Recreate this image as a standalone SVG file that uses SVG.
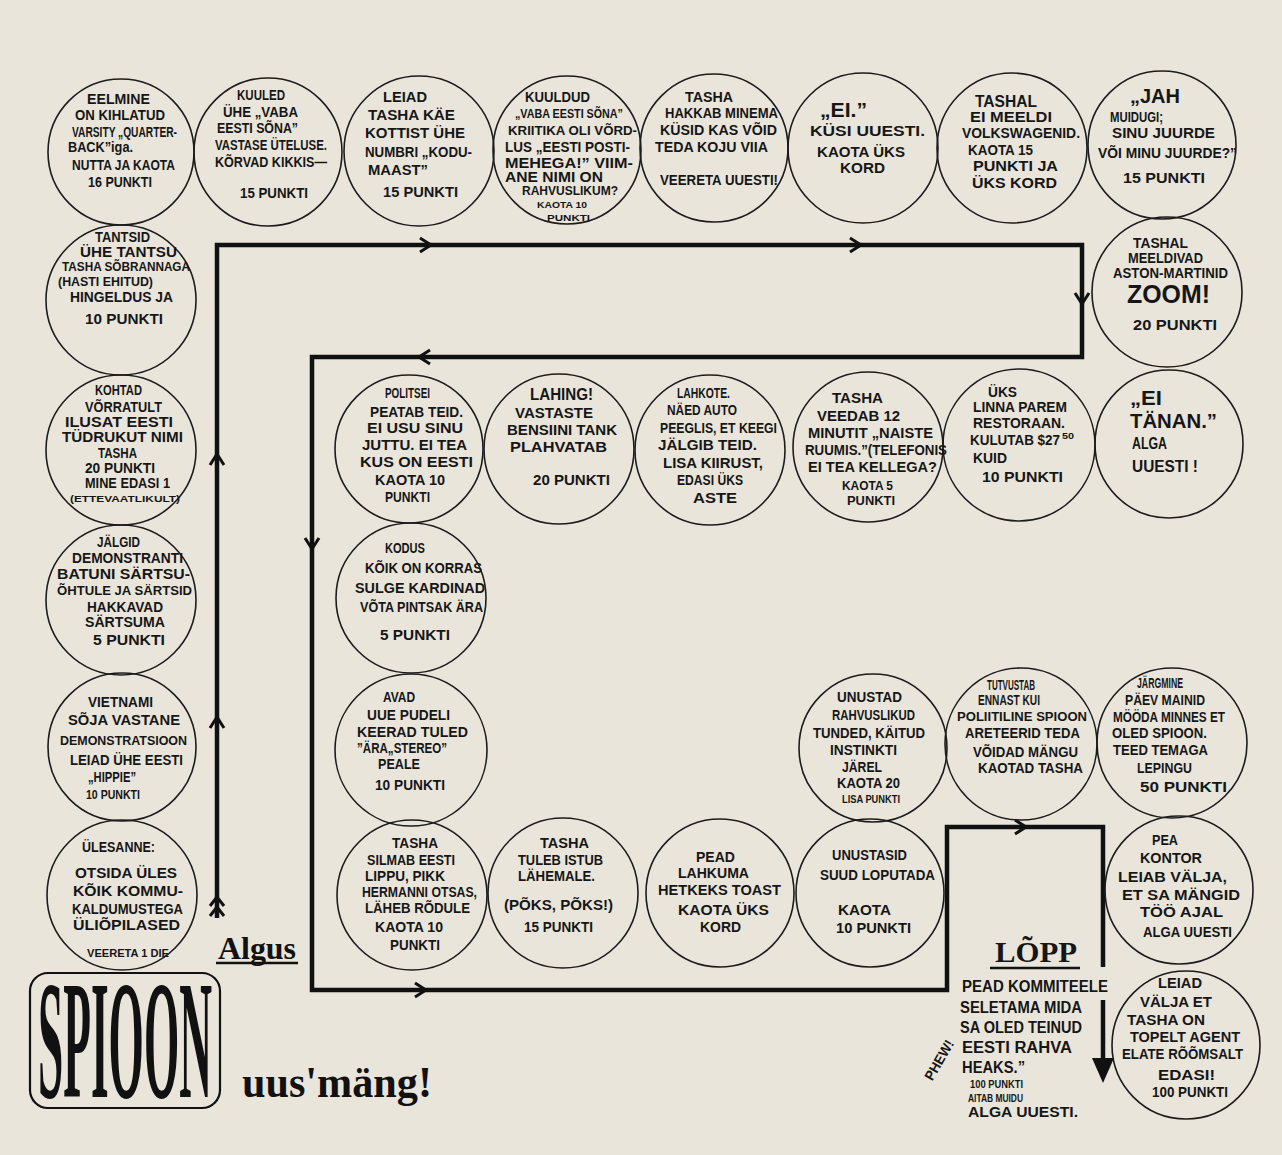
<svg xmlns="http://www.w3.org/2000/svg" xmlns:xlink="http://www.w3.org/1999/xlink" width="1282" height="1155" viewBox="0 0 1282 1155">
<defs>
<style>
.c{fill:none;stroke:#1c1c1c;stroke-width:1.6}
.t{font-family:"Liberation Sans",Arial,sans-serif;font-weight:bold;font-size:14px;fill:#161616}
.s{font-size:12.5px}
.ss{font-size:11px}
.xs{font-size:9.5px}
.m{font-size:16px}
.l{font-size:21px}
.ln{fill:none;stroke:#111;stroke-width:4.5;stroke-linejoin:miter}
.ah{fill:none;stroke:#111;stroke-width:3}
</style>
<path id="ar" d="M-10,-7 L1,0 L-10,7"/>
</defs>
<rect width="1282" height="1155" fill="#e9e5db"/>

<g id="connectors">
<path class="ln" d="M217,918 V245 H1082 V357 H312 V990 H947 V827 H1103 V967"/>
<path class="ln" d="M1103,1000 V1062"/>
<polygon points="1092,1058 1114,1058 1103,1083" fill="#111"/>
<g class="ah">
<use xlink:href="#ar" transform="translate(217,455) rotate(-90)"/>
<use xlink:href="#ar" transform="translate(217,718) rotate(-90)"/>
<use xlink:href="#ar" transform="translate(430,245)"/>
<use xlink:href="#ar" transform="translate(860,245)"/>
<use xlink:href="#ar" transform="translate(1082,303) rotate(90)"/>
<use xlink:href="#ar" transform="translate(420,357) rotate(180)"/>
<use xlink:href="#ar" transform="translate(312,548) rotate(90)"/>
<use xlink:href="#ar" transform="translate(425,990)"/>
<use xlink:href="#ar" transform="translate(1025,827)"/>
<path d="M210,906 L217,897 L224,906 M210,916 L217,907 L224,916"/>
</g>
</g>

<g id="n-eelmine"><circle class="c" cx="121" cy="152" r="73"/>
<text class="t" x="87" y="104" textLength="63" lengthAdjust="spacingAndGlyphs">EELMINE</text>
<text class="t" x="75" y="120" textLength="90" lengthAdjust="spacingAndGlyphs">ON KIHLATUD</text>
<text class="t" x="72" y="137" textLength="105" lengthAdjust="spacingAndGlyphs">VARSITY „QUARTER-</text>
<text class="t" x="68" y="152" textLength="65" lengthAdjust="spacingAndGlyphs">BACK”iga.</text>
<text class="t" x="72" y="170" textLength="103" lengthAdjust="spacingAndGlyphs">NUTTA JA KAOTA</text>
<text class="t" x="88" y="187" textLength="64" lengthAdjust="spacingAndGlyphs">16 PUNKTI</text>
</g>

<g id="n-kuuled"><circle class="c" cx="268" cy="152" r="74"/>
<text class="t" x="237" y="100" textLength="48" lengthAdjust="spacingAndGlyphs">KUULED</text>
<text class="t" x="223" y="117" textLength="75" lengthAdjust="spacingAndGlyphs">ÜHE „VABA</text>
<text class="t" x="217" y="133" textLength="81" lengthAdjust="spacingAndGlyphs">EESTI SÕNA”</text>
<text class="t" x="215" y="150" textLength="112" lengthAdjust="spacingAndGlyphs">VASTASE ÜTELUSE.</text>
<text class="t" x="215" y="167" textLength="112" lengthAdjust="spacingAndGlyphs">KÕRVAD KIKKIS—</text>
<text class="t" x="240" y="198" textLength="68" lengthAdjust="spacingAndGlyphs">15 PUNKTI</text>
</g>

<g id="n-leiad-kottist"><circle class="c" cx="419" cy="151" r="75"/>
<text class="t" x="383" y="102" textLength="44" lengthAdjust="spacingAndGlyphs">LEIAD</text>
<text class="t" x="368" y="120" textLength="87" lengthAdjust="spacingAndGlyphs">TASHA KÄE</text>
<text class="t" x="365" y="138" textLength="100" lengthAdjust="spacingAndGlyphs">KOTTIST ÜHE</text>
<text class="t" x="365" y="157" textLength="107" lengthAdjust="spacingAndGlyphs">NUMBRI „KODU-</text>
<text class="t" x="368" y="175" textLength="60" lengthAdjust="spacingAndGlyphs">MAAST”</text>
<text class="t" x="383" y="197" textLength="75" lengthAdjust="spacingAndGlyphs">15 PUNKTI</text>
</g>

<g id="n-kuuldud"><circle class="c" cx="567" cy="150" r="74"/>
<text class="t" x="525" y="102" textLength="65" lengthAdjust="spacingAndGlyphs">KUULDUD</text>
<text class="t s" x="515" y="118" textLength="108" lengthAdjust="spacingAndGlyphs">„VABA EESTI SÕNA”</text>
<text class="t s" x="508" y="135" textLength="129" lengthAdjust="spacingAndGlyphs">KRIITIKA OLI VÕRD-</text>
<text class="t" x="505" y="152" textLength="125" lengthAdjust="spacingAndGlyphs">LUS „EESTI POSTI-</text>
<text class="t" x="505" y="168" textLength="128" lengthAdjust="spacingAndGlyphs">MEHEGA!” VIIM-</text>
<text class="t" x="505" y="182" textLength="98" lengthAdjust="spacingAndGlyphs">ANE NIMI ON</text>
<text class="t s" x="522" y="195" textLength="96" lengthAdjust="spacingAndGlyphs">RAHVUSLIKUM?</text>
<text class="t xs" x="537" y="208" textLength="50" lengthAdjust="spacingAndGlyphs">KAOTA 10</text>
<text class="t xs" x="547" y="221" textLength="43" lengthAdjust="spacingAndGlyphs">PUNKTI</text>
</g>

<g id="n-tasha-hakkab"><circle class="c" cx="714" cy="148" r="74"/>
<text class="t" x="685" y="102" textLength="48" lengthAdjust="spacingAndGlyphs">TASHA</text>
<text class="t" x="665" y="118" textLength="113" lengthAdjust="spacingAndGlyphs">HAKKAB MINEMA</text>
<text class="t" x="660" y="135" textLength="117" lengthAdjust="spacingAndGlyphs">KÜSID KAS VÕID</text>
<text class="t" x="655" y="152" textLength="113" lengthAdjust="spacingAndGlyphs">TEDA KOJU VIIA</text>
<text class="t" x="660" y="185" textLength="118" lengthAdjust="spacingAndGlyphs">VEERETA UUESTI!</text>
</g>

<g id="n-ei"><circle class="c" cx="863" cy="148" r="75"/>
<text class="t l" x="820" y="117" textLength="47" lengthAdjust="spacingAndGlyphs">„EI.”</text>
<text class="t" x="810" y="136" textLength="115" lengthAdjust="spacingAndGlyphs">KÜSI UUESTI.</text>
<text class="t" x="817" y="157" textLength="88" lengthAdjust="spacingAndGlyphs">KAOTA ÜKS</text>
<text class="t" x="840" y="173" textLength="45" lengthAdjust="spacingAndGlyphs">KORD</text>
</g>

<g id="n-tashal-ei-meeldi"><circle class="c" cx="1012" cy="148" r="75"/>
<text class="t m" x="975" y="107" textLength="62" lengthAdjust="spacingAndGlyphs">TASHAL</text>
<text class="t" x="970" y="122" textLength="82" lengthAdjust="spacingAndGlyphs">EI MEELDI</text>
<text class="t" x="962" y="138" textLength="118" lengthAdjust="spacingAndGlyphs">VOLKSWAGENID.</text>
<text class="t" x="968" y="155" textLength="65" lengthAdjust="spacingAndGlyphs">KAOTA 15</text>
<text class="t" x="973" y="171" textLength="85" lengthAdjust="spacingAndGlyphs">PUNKTI JA</text>
<text class="t" x="972" y="188" textLength="85" lengthAdjust="spacingAndGlyphs">ÜKS KORD</text>
</g>

<g id="n-jah"><circle class="c" cx="1162" cy="145" r="74"/>
<text class="t l" x="1130" y="103" textLength="50" lengthAdjust="spacingAndGlyphs">„JAH</text>
<text class="t" x="1110" y="122" textLength="53" lengthAdjust="spacingAndGlyphs">MUIDUGI;</text>
<text class="t" x="1112" y="138" textLength="103" lengthAdjust="spacingAndGlyphs">SINU JUURDE</text>
<text class="t" x="1098" y="158" textLength="139" lengthAdjust="spacingAndGlyphs">VÕI MINU JUURDE?”</text>
<text class="t" x="1123" y="183" textLength="82" lengthAdjust="spacingAndGlyphs">15 PUNKTI</text>
</g>

<g id="n-aston-martin"><circle class="c" cx="1167" cy="292" r="75"/>
<text class="t" x="1133" y="248" textLength="55" lengthAdjust="spacingAndGlyphs">TASHAL</text>
<text class="t" x="1128" y="263" textLength="75" lengthAdjust="spacingAndGlyphs">MEELDIVAD</text>
<text class="t" x="1113" y="278" textLength="115" lengthAdjust="spacingAndGlyphs">ASTON-MARTINID</text>
<text class="t" style="font-size:25px" x="1127" y="303" textLength="83" lengthAdjust="spacingAndGlyphs">ZOOM!</text>
<text class="t" x="1133" y="330" textLength="84" lengthAdjust="spacingAndGlyphs">20 PUNKTI</text>
</g>

<g id="n-ei-tanan"><circle class="c" cx="1169" cy="444" r="74"/>
<text class="t l" x="1130" y="405" textLength="32" lengthAdjust="spacingAndGlyphs">„EI</text>
<text class="t l" x="1130" y="428" textLength="87" lengthAdjust="spacingAndGlyphs">TÄNAN.”</text>
<text class="t m" x="1132" y="449" textLength="35" lengthAdjust="spacingAndGlyphs">ALGA</text>
<text class="t m" x="1132" y="472" textLength="66" lengthAdjust="spacingAndGlyphs">UUESTI !</text>
</g>

<g id="n-uks-restoraan"><circle class="c" cx="1019" cy="445" r="76"/>
<text class="t" x="988" y="397" textLength="29" lengthAdjust="spacingAndGlyphs">ÜKS</text>
<text class="t" x="973" y="412" textLength="94" lengthAdjust="spacingAndGlyphs">LINNA PAREM</text>
<text class="t" x="973" y="428" textLength="92" lengthAdjust="spacingAndGlyphs">RESTORAAN.</text>
<text class="t" x="970" y="445" textLength="90" lengthAdjust="spacingAndGlyphs">KULUTAB $27</text>
<text class="t xs" x="1062" y="439" textLength="12" lengthAdjust="spacingAndGlyphs">50</text>
<text class="t" x="973" y="463" textLength="34" lengthAdjust="spacingAndGlyphs">KUID</text>
<text class="t" x="982" y="482" textLength="81" lengthAdjust="spacingAndGlyphs">10 PUNKTI</text>
</g>

<g id="n-tasha-veedab"><circle class="c" cx="868" cy="447" r="75"/>
<text class="t" x="832" y="403" textLength="51" lengthAdjust="spacingAndGlyphs">TASHA</text>
<text class="t" x="817" y="421" textLength="83" lengthAdjust="spacingAndGlyphs">VEEDAB 12</text>
<text class="t" x="808" y="438" textLength="125" lengthAdjust="spacingAndGlyphs">MINUTIT „NAISTE</text>
<text class="t" x="805" y="455" textLength="142" lengthAdjust="spacingAndGlyphs">RUUMIS.”(TELEFONIS</text>
<text class="t" x="808" y="472" textLength="129" lengthAdjust="spacingAndGlyphs">EI TEA KELLEGA?</text>
<text class="t s" x="842" y="490" textLength="51" lengthAdjust="spacingAndGlyphs">KAOTA 5</text>
<text class="t s" x="847" y="505" textLength="48" lengthAdjust="spacingAndGlyphs">PUNKTI</text>
</g>

<g id="n-lahkote"><circle class="c" cx="710" cy="450" r="75"/>
<text class="t" x="677" y="398" textLength="53" lengthAdjust="spacingAndGlyphs">LAHKOTE.</text>
<text class="t" x="667" y="415" textLength="70" lengthAdjust="spacingAndGlyphs">NÄED AUTO</text>
<text class="t" x="660" y="433" textLength="117" lengthAdjust="spacingAndGlyphs">PEEGLIS, ET KEEGI</text>
<text class="t" x="658" y="450" textLength="99" lengthAdjust="spacingAndGlyphs">JÄLGIB TEID.</text>
<text class="t" x="663" y="468" textLength="100" lengthAdjust="spacingAndGlyphs">LISA KIIRUST,</text>
<text class="t" x="677" y="485" textLength="66" lengthAdjust="spacingAndGlyphs">EDASI ÜKS</text>
<text class="t" x="693" y="503" textLength="44" lengthAdjust="spacingAndGlyphs">ASTE</text>
</g>

<g id="n-lahing"><circle class="c" cx="559" cy="449" r="75"/>
<text class="t m" x="530" y="400" textLength="63" lengthAdjust="spacingAndGlyphs">LAHING!</text>
<text class="t" x="515" y="418" textLength="78" lengthAdjust="spacingAndGlyphs">VASTASTE</text>
<text class="t" x="507" y="435" textLength="110" lengthAdjust="spacingAndGlyphs">BENSIINI TANK</text>
<text class="t" x="510" y="452" textLength="97" lengthAdjust="spacingAndGlyphs">PLAHVATAB</text>
<text class="t" x="533" y="485" textLength="77" lengthAdjust="spacingAndGlyphs">20 PUNKTI</text>
</g>

<g id="n-politsei"><circle class="c" cx="409" cy="449" r="74"/>
<text class="t" x="385" y="398" textLength="45" lengthAdjust="spacingAndGlyphs">POLITSEI</text>
<text class="t" x="370" y="417" textLength="93" lengthAdjust="spacingAndGlyphs">PEATAB TEID.</text>
<text class="t" x="367" y="433" textLength="96" lengthAdjust="spacingAndGlyphs">EI USU SINU</text>
<text class="t" x="362" y="450" textLength="105" lengthAdjust="spacingAndGlyphs">JUTTU. EI TEA</text>
<text class="t" x="360" y="467" textLength="113" lengthAdjust="spacingAndGlyphs">KUS ON EESTI</text>
<text class="t" x="375" y="485" textLength="70" lengthAdjust="spacingAndGlyphs">KAOTA 10</text>
<text class="t" x="385" y="502" textLength="45" lengthAdjust="spacingAndGlyphs">PUNKTI</text>
</g>

<g id="n-kodus"><circle class="c" cx="411" cy="598" r="75"/>
<text class="t" x="385" y="553" textLength="40" lengthAdjust="spacingAndGlyphs">KODUS</text>
<text class="t" x="365" y="573" textLength="117" lengthAdjust="spacingAndGlyphs">KÕIK ON KORRAS</text>
<text class="t" x="355" y="593" textLength="130" lengthAdjust="spacingAndGlyphs">SULGE KARDINAD</text>
<text class="t" x="360" y="612" textLength="123" lengthAdjust="spacingAndGlyphs">VÕTA PINTSAK ÄRA</text>
<text class="t" x="380" y="640" textLength="70" lengthAdjust="spacingAndGlyphs">5 PUNKTI</text>
</g>

<g id="n-avad"><circle class="c" cx="411" cy="750" r="76"/>
<text class="t" x="383" y="702" textLength="32" lengthAdjust="spacingAndGlyphs">AVAD</text>
<text class="t" x="367" y="720" textLength="83" lengthAdjust="spacingAndGlyphs">UUE PUDELI</text>
<text class="t" x="357" y="737" textLength="111" lengthAdjust="spacingAndGlyphs">KEERAD TULED</text>
<text class="t" x="357" y="753" textLength="90" lengthAdjust="spacingAndGlyphs">”ÄRA„STEREO”</text>
<text class="t" x="378" y="769" textLength="42" lengthAdjust="spacingAndGlyphs">PEALE</text>
<text class="t" x="375" y="790" textLength="70" lengthAdjust="spacingAndGlyphs">10 PUNKTI</text>
</g>

<g id="n-tasha-silmab"><circle class="c" cx="412" cy="895" r="75"/>
<text class="t" x="392" y="848" textLength="46" lengthAdjust="spacingAndGlyphs">TASHA</text>
<text class="t" x="367" y="865" textLength="88" lengthAdjust="spacingAndGlyphs">SILMAB EESTI</text>
<text class="t" x="365" y="881" textLength="80" lengthAdjust="spacingAndGlyphs">LIPPU, PIKK</text>
<text class="t" x="362" y="897" textLength="115" lengthAdjust="spacingAndGlyphs">HERMANNI OTSAS,</text>
<text class="t" x="365" y="913" textLength="105" lengthAdjust="spacingAndGlyphs">LÄHEB RÕDULE</text>
<text class="t" x="375" y="932" textLength="68" lengthAdjust="spacingAndGlyphs">KAOTA 10</text>
<text class="t" x="390" y="950" textLength="50" lengthAdjust="spacingAndGlyphs">PUNKTI</text>
</g>

<g id="n-tasha-tuleb"><circle class="c" cx="563" cy="893" r="75"/>
<text class="t" x="540" y="848" textLength="49" lengthAdjust="spacingAndGlyphs">TASHA</text>
<text class="t" x="518" y="865" textLength="85" lengthAdjust="spacingAndGlyphs">TULEB ISTUB</text>
<text class="t" x="518" y="881" textLength="77" lengthAdjust="spacingAndGlyphs">LÄHEMALE.</text>
<text class="t" x="504" y="910" textLength="109" lengthAdjust="spacingAndGlyphs">(PÕKS, PÕKS!)</text>
<text class="t" x="524" y="932" textLength="69" lengthAdjust="spacingAndGlyphs">15 PUNKTI</text>
</g>

<g id="n-pead-lahkuma"><circle class="c" cx="720" cy="893" r="74"/>
<text class="t" x="696" y="862" textLength="39" lengthAdjust="spacingAndGlyphs">PEAD</text>
<text class="t" x="678" y="878" textLength="71" lengthAdjust="spacingAndGlyphs">LAHKUMA</text>
<text class="t" x="658" y="895" textLength="123" lengthAdjust="spacingAndGlyphs">HETKEKS TOAST</text>
<text class="t" x="678" y="915" textLength="91" lengthAdjust="spacingAndGlyphs">KAOTA ÜKS</text>
<text class="t" x="700" y="932" textLength="41" lengthAdjust="spacingAndGlyphs">KORD</text>
</g>

<g id="n-unustasid"><circle class="c" cx="870" cy="893" r="74"/>
<text class="t" x="832" y="860" textLength="75" lengthAdjust="spacingAndGlyphs">UNUSTASID</text>
<text class="t" x="820" y="880" textLength="115" lengthAdjust="spacingAndGlyphs">SUUD LOPUTADA</text>
<text class="t" x="838" y="915" textLength="53" lengthAdjust="spacingAndGlyphs">KAOTA</text>
<text class="t" x="836" y="933" textLength="75" lengthAdjust="spacingAndGlyphs">10 PUNKTI</text>
</g>

<g id="n-unustad"><circle class="c" cx="873" cy="748" r="74"/>
<text class="t" x="837" y="702" textLength="65" lengthAdjust="spacingAndGlyphs">UNUSTAD</text>
<text class="t" x="832" y="720" textLength="83" lengthAdjust="spacingAndGlyphs">RAHVUSLIKUD</text>
<text class="t" x="813" y="738" textLength="112" lengthAdjust="spacingAndGlyphs">TUNDED, KÄITUD</text>
<text class="t" x="830" y="755" textLength="67" lengthAdjust="spacingAndGlyphs">INSTINKTI</text>
<text class="t" x="842" y="772" textLength="40" lengthAdjust="spacingAndGlyphs">JÄREL</text>
<text class="t" x="837" y="788" textLength="63" lengthAdjust="spacingAndGlyphs">KAOTA 20</text>
<text class="t ss" x="842" y="803" textLength="58" lengthAdjust="spacingAndGlyphs">LISA PUNKTI</text>
</g>

<g id="n-tutvustab"><circle class="c" cx="1021" cy="744" r="76"/>
<text class="t" x="987" y="690" textLength="48" lengthAdjust="spacingAndGlyphs">TUTVUSTAB</text>
<text class="t" x="978" y="705" textLength="62" lengthAdjust="spacingAndGlyphs">ENNAST KUI</text>
<text class="t s" x="957" y="721" textLength="130" lengthAdjust="spacingAndGlyphs">POLIITILINE SPIOON</text>
<text class="t" x="965" y="738" textLength="115" lengthAdjust="spacingAndGlyphs">ARETEERID TEDA</text>
<text class="t" x="973" y="757" textLength="105" lengthAdjust="spacingAndGlyphs">VÕIDAD MÄNGU</text>
<text class="t" x="978" y="773" textLength="105" lengthAdjust="spacingAndGlyphs">KAOTAD TASHA</text>
</g>

<g id="n-jargmine"><circle class="c" cx="1172" cy="743" r="75"/>
<text class="t" x="1137" y="688" textLength="46" lengthAdjust="spacingAndGlyphs">JÄRGMINE</text>
<text class="t" x="1125" y="705" textLength="80" lengthAdjust="spacingAndGlyphs">PÄEV MAINID</text>
<text class="t" x="1113" y="722" textLength="112" lengthAdjust="spacingAndGlyphs">MÖÖDA MINNES ET</text>
<text class="t" x="1112" y="738" textLength="95" lengthAdjust="spacingAndGlyphs">OLED SPIOON.</text>
<text class="t" x="1113" y="755" textLength="95" lengthAdjust="spacingAndGlyphs">TEED TEMAGA</text>
<text class="t" x="1137" y="773" textLength="55" lengthAdjust="spacingAndGlyphs">LEPINGU</text>
<text class="t" x="1140" y="792" textLength="87" lengthAdjust="spacingAndGlyphs">50 PUNKTI</text>
</g>

<g id="n-pea-kontor"><circle class="c" cx="1179" cy="890" r="74"/>
<text class="t" x="1152" y="845" textLength="26" lengthAdjust="spacingAndGlyphs">PEA</text>
<text class="t" x="1140" y="863" textLength="62" lengthAdjust="spacingAndGlyphs">KONTOR</text>
<text class="t" x="1118" y="882" textLength="109" lengthAdjust="spacingAndGlyphs">LEIAB VÄLJA,</text>
<text class="t" x="1122" y="900" textLength="118" lengthAdjust="spacingAndGlyphs">ET SA MÄNGID</text>
<text class="t" x="1140" y="917" textLength="83" lengthAdjust="spacingAndGlyphs">TÖÖ AJAL</text>
<text class="t" x="1143" y="937" textLength="89" lengthAdjust="spacingAndGlyphs">ALGA UUESTI</text>
</g>

<g id="n-topelt-agent"><circle class="c" cx="1186" cy="1045" r="74"/>
<text class="t" x="1158" y="988" textLength="44" lengthAdjust="spacingAndGlyphs">LEIAD</text>
<text class="t" x="1140" y="1007" textLength="72" lengthAdjust="spacingAndGlyphs">VÄLJA ET</text>
<text class="t" x="1127" y="1025" textLength="78" lengthAdjust="spacingAndGlyphs">TASHA ON</text>
<text class="t" x="1130" y="1042" textLength="110" lengthAdjust="spacingAndGlyphs">TOPELT AGENT</text>
<text class="t" x="1122" y="1059" textLength="121" lengthAdjust="spacingAndGlyphs">ELATE RÕÕMSALT</text>
<text class="t" x="1158" y="1080" textLength="57" lengthAdjust="spacingAndGlyphs">EDASI!</text>
<text class="t" x="1152" y="1097" textLength="76" lengthAdjust="spacingAndGlyphs">100 PUNKTI</text>
</g>

<g id="n-tantsid"><circle class="c" cx="121" cy="300" r="75"/>
<text class="t" x="95" y="242" textLength="55" lengthAdjust="spacingAndGlyphs">TANTSID</text>
<text class="t" x="80" y="257" textLength="97" lengthAdjust="spacingAndGlyphs">ÜHE TANTSU</text>
<text class="t s" x="62" y="271" textLength="128" lengthAdjust="spacingAndGlyphs">TASHA SÕBRANNAGA</text>
<text class="t s" x="58" y="286" textLength="95" lengthAdjust="spacingAndGlyphs">(HASTI EHITUD)</text>
<text class="t" x="70" y="302" textLength="103" lengthAdjust="spacingAndGlyphs">HINGELDUS JA</text>
<text class="t" x="85" y="324" textLength="78" lengthAdjust="spacingAndGlyphs">10 PUNKTI</text>
</g>

<g id="n-kohtad"><circle class="c" cx="121" cy="450" r="75"/>
<text class="t" x="95" y="395" textLength="47" lengthAdjust="spacingAndGlyphs">KOHTAD</text>
<text class="t" x="85" y="412" textLength="77" lengthAdjust="spacingAndGlyphs">VÕRRATULT</text>
<text class="t" x="65" y="427" textLength="108" lengthAdjust="spacingAndGlyphs">ILUSAT EESTI</text>
<text class="t" x="62" y="442" textLength="121" lengthAdjust="spacingAndGlyphs">TÜDRUKUT NIMI</text>
<text class="t" x="98" y="458" textLength="39" lengthAdjust="spacingAndGlyphs">TASHA</text>
<text class="t" x="85" y="473" textLength="70" lengthAdjust="spacingAndGlyphs">20 PUNKTI</text>
<text class="t" x="85" y="488" textLength="85" lengthAdjust="spacingAndGlyphs">MINE EDASI 1</text>
<text class="t xs" x="70" y="502" textLength="110" lengthAdjust="spacingAndGlyphs">(ETTEVAATLIKULT)</text>
</g>

<g id="n-jalgid"><circle class="c" cx="121" cy="600" r="75"/>
<text class="t" x="97" y="547" textLength="43" lengthAdjust="spacingAndGlyphs">JÄLGID</text>
<text class="t" x="72" y="563" textLength="111" lengthAdjust="spacingAndGlyphs">DEMONSTRANTI</text>
<text class="t" x="57" y="579" textLength="133" lengthAdjust="spacingAndGlyphs">BATUNI SÄRTSU-</text>
<text class="t s" x="57" y="595" textLength="135" lengthAdjust="spacingAndGlyphs">ÕHTULE JA SÄRTSID</text>
<text class="t" x="87" y="612" textLength="76" lengthAdjust="spacingAndGlyphs">HAKKAVAD</text>
<text class="t" x="85" y="627" textLength="80" lengthAdjust="spacingAndGlyphs">SÄRTSUMA</text>
<text class="t" x="93" y="645" textLength="72" lengthAdjust="spacingAndGlyphs">5 PUNKTI</text>
</g>

<g id="n-vietnami"><circle class="c" cx="122" cy="747" r="74"/>
<text class="t" x="88" y="707" textLength="65" lengthAdjust="spacingAndGlyphs">VIETNAMI</text>
<text class="t" x="68" y="725" textLength="112" lengthAdjust="spacingAndGlyphs">SÕJA VASTANE</text>
<text class="t s" x="60" y="745" textLength="127" lengthAdjust="spacingAndGlyphs">DEMONSTRATSIOON</text>
<text class="t" x="70" y="765" textLength="113" lengthAdjust="spacingAndGlyphs">LEIAD ÜHE EESTI</text>
<text class="t" x="88" y="782" textLength="48" lengthAdjust="spacingAndGlyphs">„HIPPIE”</text>
<text class="t s" x="86" y="799" textLength="54" lengthAdjust="spacingAndGlyphs">10 PUNKTI</text>
</g>

<g id="n-ulesanne"><circle class="c" cx="122" cy="895" r="75"/>
<text class="t" x="82" y="852" textLength="73" lengthAdjust="spacingAndGlyphs">ÜLESANNE:</text>
<text class="t" x="75" y="878" textLength="102" lengthAdjust="spacingAndGlyphs">OTSIDA ÜLES</text>
<text class="t" x="73" y="896" textLength="110" lengthAdjust="spacingAndGlyphs">KÕIK KOMMU-</text>
<text class="t" x="72" y="914" textLength="111" lengthAdjust="spacingAndGlyphs">KALDUMUSTEGA</text>
<text class="t" x="73" y="930" textLength="107" lengthAdjust="spacingAndGlyphs">ÜLIÕPILASED</text>
<text class="t" style="font-size:10px" x="87" y="957" textLength="82" lengthAdjust="spacingAndGlyphs">VEERETA 1 DIE</text>
</g>

<g id="n-algus">
<text x="218" y="959" textLength="78" lengthAdjust="spacingAndGlyphs" style="font-family:'Liberation Serif','Times New Roman',serif;font-weight:bold;font-size:31px;fill:#111">Algus</text>
<line x1="216" y1="963" x2="298" y2="963" stroke="#111" stroke-width="2.5"/>
</g>

<g id="n-lopp">
<text class="t" style="font-family:'Liberation Serif','Times New Roman',serif;font-size:30px" x="995" y="962" textLength="82" lengthAdjust="spacingAndGlyphs">LÕPP</text>
<line x1="990" y1="968" x2="1080" y2="968" stroke="#111" stroke-width="2.5"/>
<text class="t m" x="962" y="992" textLength="146" lengthAdjust="spacingAndGlyphs">PEAD KOMMITEELE</text>
<text class="t m" x="960" y="1013" textLength="122" lengthAdjust="spacingAndGlyphs">SELETAMA MIDA</text>
<text class="t m" x="960" y="1033" textLength="122" lengthAdjust="spacingAndGlyphs">SA OLED TEINUD</text>
<text class="t m" x="962" y="1053" textLength="110" lengthAdjust="spacingAndGlyphs">EESTI RAHVA</text>
<text class="t m" x="962" y="1073" textLength="63" lengthAdjust="spacingAndGlyphs">HEAKS.”</text>
<text class="t ss" x="970" y="1088" textLength="53" lengthAdjust="spacingAndGlyphs">100 PUNKTI</text>
<text class="t ss" x="968" y="1102" textLength="55" lengthAdjust="spacingAndGlyphs">AITAB MUIDU</text>
<text class="t" x="968" y="1117" textLength="110" lengthAdjust="spacingAndGlyphs">ALGA UUESTI.</text>
<text class="t" transform="translate(939,1060) rotate(-60)" x="-22" y="5" textLength="44" lengthAdjust="spacingAndGlyphs">PHEW!</text>
</g>

<g id="title">
<rect x="30" y="973" width="190" height="135" rx="18" ry="18" fill="none" stroke="#111" stroke-width="2.2"/>
<text transform="translate(38,1097) scale(1,3.4)" x="0" y="0" textLength="174" lengthAdjust="spacingAndGlyphs" style="font-family:'Liberation Serif','Times New Roman',serif;font-weight:bold;font-size:50px;fill:#111">SPIOON</text>
<text x="242" y="1097" textLength="190" lengthAdjust="spacingAndGlyphs" style="font-family:'Liberation Serif','Times New Roman',serif;font-weight:bold;font-size:44px;fill:#111">uus'mäng!</text>
</g>
</svg>
